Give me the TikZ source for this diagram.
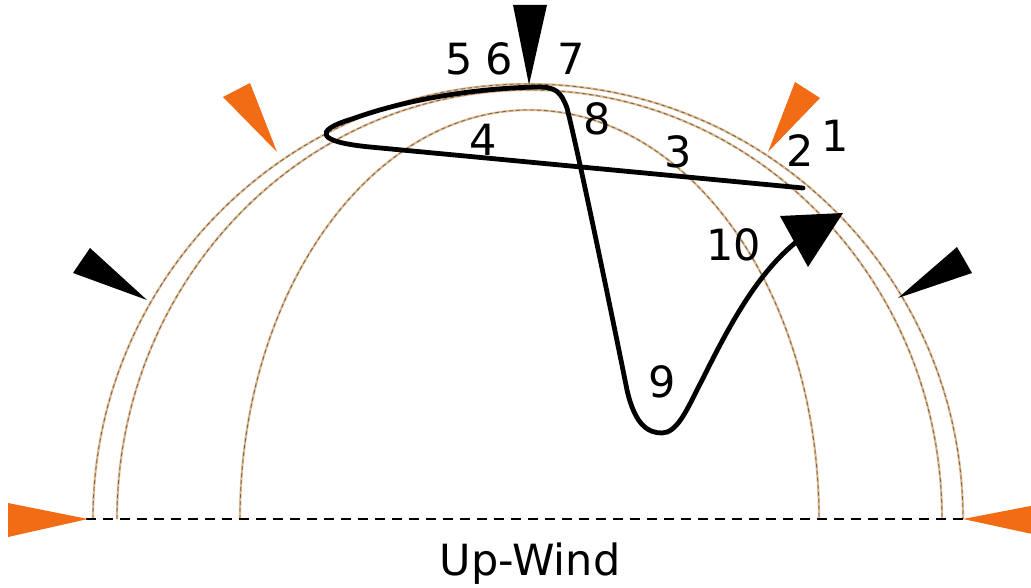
\documentclass[tikz,border=0pt]{standalone}
\usepackage{fontspec}
\setmainfont{DejaVu Sans}
\definecolor{kiteorange}{RGB}{242,108,22}
\definecolor{arctan}{RGB}{225,185,140}
\definecolor{arcgray}{RGB}{110,98,86}
\begin{document}
\begin{tikzpicture}[x=1pt,y=-1pt,
  arcbase/.style={draw=arctan,line width=2.2pt},
  arcdash/.style={draw=arcgray,line width=0.8pt,dash pattern=on 4pt off 3pt},
  lbl/.style={inner sep=0pt,font=\fontsize{43}{50}\selectfont},
  orangeflag/.style={fill=kiteorange},
  blackflag/.style={fill=black},
  kitepath/.style={draw=black,line width=4.8pt,line cap=round,line join=round},
  baseline/.style={draw=black,line width=2pt,dash pattern=on 10pt off 7pt}]
\useasboundingbox (0,0) rectangle (1031,588);
\begin{scope}
\clip (0,0) rectangle (1031,588);
% arcs of the wind window
\foreach \x/\rx/\ry in {93/435/435,117/412.5/429,240/289.5/409}{
  \draw[arcbase] (\x,519) arc[start angle=180,end angle=0,x radius=\rx pt,y radius=\ry pt];
  \draw[arcdash] (\x,519) arc[start angle=180,end angle=0,x radius=\rx pt,y radius=\ry pt];
}
% base line
\coordinate (bl) at (86,519);
\coordinate (br) at (964,519);
\draw[baseline] (bl) -- (br);
% orange markers
\fill[orangeflag] (8,503) -- (88,519) -- (8,537) -- cycle;
\fill[orangeflag] (1046,503) -- (963,519) -- (1046,537) -- cycle;
\fill[orangeflag] (223,97) -- (250,83) -- (277,152) -- cycle;
\fill[orangeflag] (795,82) -- (820,98) -- (768,152) -- cycle;
% black markers
\fill[blackflag] (513,5) -- (547,5) -- (529,85) -- cycle;
\fill[blackflag] (73,273) -- (90,248) -- (147,300) -- cycle;
\fill[blackflag] (957,247) -- (972,273) -- (898,298) -- cycle;
% kite path
\draw[kitepath] (803,188) -- (370,147)
  .. controls (318,142) and (312,131) .. (352,119)
  .. controls (410,98) and (480,88) .. (538,87)
  .. controls (556,87) and (561,92) .. (567,108)
  .. controls (580,160) and (615,330) .. (627,390)
  .. controls (635,425) and (648,433) .. (662,433)
  .. controls (676,433) and (686,412) .. (697,390)
  .. controls (720,345) and (750,280) .. (795,243);
\fill[blackflag] (780,216) -- (843,213) -- (808,267) -- cycle;
\end{scope}
% labels
\node[lbl] (l5) at (459,59) {5};
\node[lbl] (l6) at (499,59) {6};
\node[lbl] (l7) at (571,59) {7};
\node[lbl] (l8) at (597,119) {8};
\node[lbl] (l4) at (483,140) {4};
\node[lbl] (l3) at (678,152) {3};
\node[lbl] (l2) at (800,151) {2};
\node[lbl] (l1) at (835,136) {1};
\node[lbl] (l10) at (734,245) {10};
\node[lbl] (l9) at (662,382) {9};
\node[lbl,anchor=base] (uw) at (530,575) {Up-Wind};
\end{tikzpicture}
\end{document}
